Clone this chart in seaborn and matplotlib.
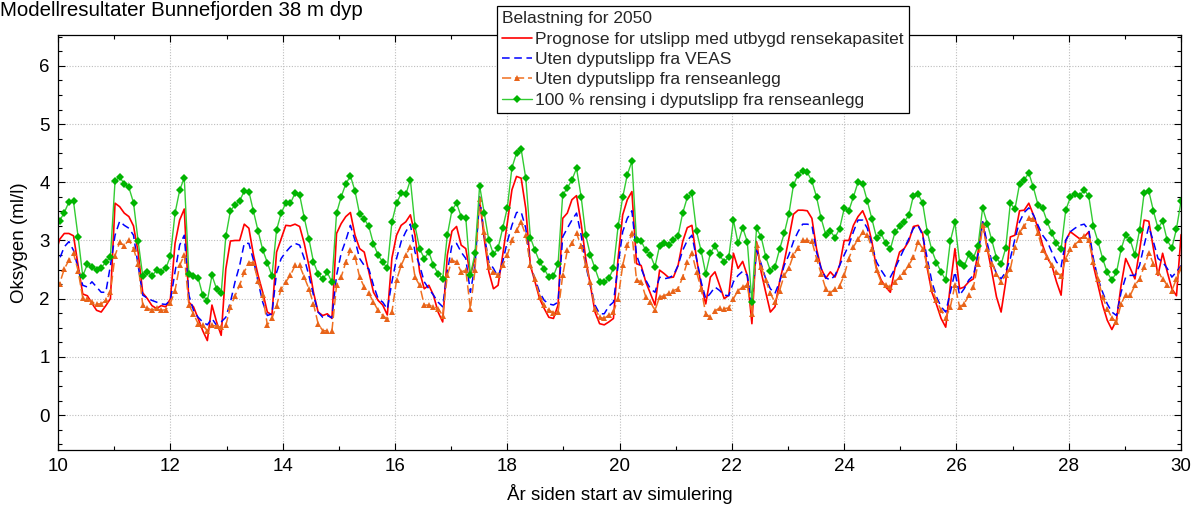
import numpy as np
import pandas as pd
import matplotlib
matplotlib.use("Agg")
import matplotlib.pyplot as plt
from matplotlib.ticker import MultipleLocator
import seaborn as sns

start_year = 9.946
step_days = 30

prognose = [2.75,3.02,3.12,3.12,3.08,2.57,2.08,2.05,1.92,1.80,1.77,1.88,2.00,3.64,3.58,3.47,3.41,3.25,2.80,2.10,
2.00,1.88,1.83,1.88,1.86,2.00,2.95,3.35,3.54,1.94,1.86,1.66,1.45,1.28,1.89,1.60,1.37,2.51,2.99,3.00,
3.00,3.28,3.21,2.75,2.40,2.11,1.77,1.72,2.80,3.03,3.26,3.25,3.28,3.24,2.95,2.57,2.11,1.77,1.71,1.74,
1.66,3.12,3.29,3.41,3.48,3.09,2.86,2.80,2.46,2.11,1.97,1.89,1.72,2.70,3.09,3.26,3.32,3.44,3.09,2.46,
2.17,2.23,2.06,1.77,1.60,2.75,3.16,3.24,2.92,2.86,2.40,2.69,3.70,3.03,2.46,2.17,2.23,2.75,3.30,3.87,
4.10,4.07,3.55,2.57,2.29,2.00,1.83,1.68,1.66,1.89,3.38,3.47,3.70,3.77,3.29,2.69,2.23,1.77,1.57,1.55,
1.60,1.66,2.69,3.44,3.70,3.84,2.60,2.57,2.29,2.09,1.89,2.49,2.43,2.36,2.37,2.57,2.98,3.22,3.26,2.69,
2.23,1.91,2.37,2.46,2.23,2.00,2.06,2.78,2.52,2.64,2.40,1.57,2.98,2.46,2.11,1.77,1.86,2.29,2.63,3.03,
3.45,3.52,3.52,3.51,3.38,2.86,2.52,2.35,2.46,2.37,2.57,3.00,3.00,3.26,3.41,3.51,3.32,2.98,2.52,2.32,
2.20,2.11,2.52,2.80,2.86,2.99,3.24,3.26,3.12,2.52,2.11,1.90,1.66,1.51,2.23,2.86,2.17,2.20,2.29,2.34,
2.80,3.32,2.86,2.46,2.03,1.77,2.29,3.06,3.09,3.51,3.52,3.64,3.44,3.21,2.92,2.70,2.57,2.29,2.06,3.00,
3.15,3.09,3.03,3.06,3.15,2.57,2.23,1.89,1.63,1.47,1.63,2.23,2.69,2.52,2.34,2.83,3.35,3.33,2.86,2.40,
2.78,2.46,2.17,2.05,3.10]

uten_veas = [2.52,2.69,2.89,2.98,2.83,2.52,2.23,2.20,2.29,2.20,2.11,2.11,2.57,3.09,3.33,3.26,3.21,3.09,2.57,2.06,
2.01,1.97,1.94,1.91,1.90,1.97,2.46,2.92,3.09,2.06,1.80,1.68,1.60,1.55,1.66,1.54,1.60,1.68,1.94,2.29,
2.57,2.95,2.95,2.66,2.29,1.94,1.71,1.74,2.45,2.69,2.80,2.89,2.95,2.92,2.69,2.40,2.06,1.77,1.68,1.71,
1.67,2.40,2.78,3.00,3.26,3.00,2.69,2.57,2.51,2.23,2.00,1.94,1.82,2.29,2.69,2.98,3.15,3.28,2.80,2.57,
2.29,2.17,2.06,1.94,1.86,2.46,2.92,2.95,2.80,2.69,2.11,2.57,3.75,3.09,2.63,2.52,2.37,2.63,2.98,3.26,
3.48,3.49,3.21,2.57,2.34,2.11,1.97,1.91,1.89,1.94,3.06,3.21,3.35,3.47,3.09,2.57,2.23,1.89,1.74,1.74,
1.87,1.94,2.57,3.15,3.38,3.51,2.75,2.52,2.32,2.17,2.11,2.37,2.34,2.36,2.40,2.57,2.83,3.00,3.09,2.69,
2.29,2.00,2.09,2.20,2.14,2.06,2.05,2.29,2.40,2.47,2.40,1.89,2.83,2.60,2.34,2.17,2.09,2.29,2.57,2.75,
2.98,3.15,3.28,3.28,3.26,2.80,2.52,2.36,2.32,2.40,2.57,2.75,2.92,3.15,3.35,3.35,3.21,2.92,2.63,2.49,
2.37,2.37,2.52,2.69,2.86,3.03,3.21,3.26,3.09,2.69,2.29,2.03,1.86,1.77,2.11,2.46,2.06,2.17,2.32,2.40,
2.75,3.32,2.95,2.63,2.43,2.34,2.46,2.69,3.03,3.32,3.48,3.56,3.44,3.26,3.09,2.98,2.80,2.63,2.55,3.00,
3.15,3.21,3.26,3.28,3.18,2.69,2.34,2.11,1.91,1.77,1.71,2.11,2.37,2.40,2.40,2.57,2.92,3.24,2.98,2.69,
2.63,2.52,2.37,2.46,2.57]

uten_renseanlegg = [2.15,2.26,2.51,2.66,2.78,2.48,2.01,2.00,1.94,1.91,1.91,1.97,2.11,2.74,2.97,2.91,3.01,2.86,2.60,1.89,
1.84,1.80,1.84,1.80,1.81,1.92,2.14,2.57,2.75,1.89,1.74,1.57,1.54,1.45,1.54,1.53,1.51,1.54,1.86,2.05,
2.23,2.46,2.62,2.62,2.30,2.06,1.55,1.66,1.88,2.17,2.29,2.40,2.57,2.57,2.37,2.17,1.91,1.57,1.45,1.45,
1.45,2.23,2.37,2.63,2.83,2.72,2.37,2.20,2.09,1.94,1.80,1.71,1.65,1.77,2.32,2.57,2.75,2.89,2.37,2.23,
1.89,1.89,1.86,1.83,1.71,2.40,2.66,2.63,2.46,2.49,1.83,2.49,3.71,3.15,2.55,2.46,2.40,2.57,2.75,3.00,
3.18,3.31,3.09,2.57,2.34,2.03,1.89,1.80,1.76,1.77,2.40,2.83,2.95,3.12,2.91,2.57,2.29,1.83,1.68,1.66,
1.72,1.77,2.00,2.57,2.92,3.12,2.32,2.29,2.03,1.94,1.80,2.03,2.05,2.09,2.14,2.17,2.37,2.63,2.78,2.46,
2.17,1.74,1.68,1.79,1.84,1.83,1.84,2.00,2.14,2.20,2.23,1.74,2.92,2.55,2.32,2.09,1.94,2.14,2.40,2.52,
2.75,2.87,3.00,3.00,2.99,2.69,2.43,2.17,2.10,2.17,2.22,2.40,2.69,2.89,3.02,3.14,3.10,2.86,2.49,2.29,
2.23,2.20,2.29,2.37,2.46,2.57,2.72,2.98,2.86,2.57,2.17,1.97,1.80,1.67,1.86,2.23,1.86,1.91,2.06,2.20,
2.60,3.26,2.86,2.60,2.43,2.29,2.40,2.51,2.89,3.14,3.24,3.38,3.37,3.12,2.83,2.72,2.57,2.46,2.39,2.69,
2.85,2.93,3.00,3.08,3.00,2.63,2.34,2.03,1.83,1.67,1.60,1.91,2.07,2.06,2.23,2.34,2.55,2.79,2.60,2.46,
2.34,2.23,2.14,2.34,2.52]

full_rensing = [3.25,3.34,3.48,3.66,3.67,3.06,2.39,2.59,2.55,2.49,2.53,2.63,2.72,4.02,4.09,3.97,3.91,3.65,2.99,2.39,
2.46,2.39,2.49,2.46,2.52,2.73,3.47,3.86,4.08,2.42,2.39,2.36,2.06,1.96,2.40,2.17,2.09,3.07,3.51,3.61,
3.68,3.85,3.84,3.50,3.16,2.84,2.62,2.39,3.18,3.47,3.64,3.64,3.81,3.78,3.39,3.03,2.63,2.43,2.33,2.45,
2.28,3.47,3.75,3.97,4.11,3.85,3.45,3.37,3.24,2.94,2.75,2.63,2.52,3.32,3.64,3.81,3.79,4.04,3.25,2.86,
2.69,2.80,2.57,2.43,2.34,3.09,3.52,3.64,3.41,3.39,2.40,2.78,3.94,3.47,3.00,2.76,2.87,3.21,3.56,4.25,
4.50,4.57,4.07,3.05,2.83,2.63,2.51,2.37,2.39,2.60,3.78,3.90,4.04,4.24,3.75,3.09,2.75,2.52,2.29,2.28,
2.35,2.52,3.24,3.74,4.13,4.36,3.00,2.99,2.83,2.75,2.55,2.91,2.95,2.92,3.00,3.08,3.47,3.74,3.81,3.16,
2.82,2.43,2.78,2.91,2.75,2.63,2.72,3.35,2.95,3.22,2.98,1.94,3.21,3.06,2.72,2.48,2.55,2.85,3.12,3.45,
3.95,4.13,4.20,4.17,4.02,3.75,3.38,3.10,3.16,3.05,3.20,3.55,3.51,3.75,4.00,3.97,3.68,3.37,3.05,3.12,
2.95,2.85,3.14,3.24,3.32,3.43,3.77,3.80,3.64,3.15,2.83,2.62,2.46,2.32,2.99,3.31,2.62,2.56,2.76,2.70,
2.91,3.56,3.29,3.00,2.70,2.59,2.87,3.64,3.54,3.97,4.04,4.16,3.91,3.61,3.55,3.32,3.12,2.95,2.85,3.52,
3.74,3.80,3.76,3.87,3.76,3.24,2.98,2.69,2.45,2.32,2.45,2.85,3.10,3.00,2.75,3.18,3.82,3.85,3.51,3.21,
3.33,3.00,2.87,3.20,3.68]

labels = ["Prognose for utslipp med utbygd rensekapasitet",
          "Uten dyputslipp fra VEAS",
          "Uten dyputslipp fra renseanlegg",
          "100 % rensing i dyputslipp fra renseanlegg"]
title = "Modellresultater Bunnefjorden 38 m dyp"
legend_title = "Belastning for 2050"
xlabel = "År siden start av simulering"
ylabel = "Oksygen (ml/l)"

n = len(prognose)
years = start_year + np.arange(n) * step_days / 365.0

sns.set_theme(style="white")
plt.rcParams["font.family"] = ["Liberation Sans", "DejaVu Sans"]

fig = plt.figure(figsize=(12, 5.11), dpi=100)
ax = fig.add_axes([0.0484, 0.1194, 0.9358, 0.8121])

sns.lineplot(x=years, y=prognose, ax=ax, color="#ff0000", lw=1.2, label=labels[0],
             estimator=None, sort=False)
sns.lineplot(x=years, y=uten_veas, ax=ax, color="#0000ff", lw=1.1, label=labels[1],
             estimator=None, sort=False, dashes=False, linestyle=(0, (5, 3)))
sns.lineplot(x=years, y=uten_renseanlegg, ax=ax, color="#f07020", lw=1.1, label=labels[2],
             estimator=None, sort=False, linestyle=(0, (6, 2.5)), marker="^",
             markersize=5, markeredgewidth=0, markerfacecolor="#e8641a")
sns.lineplot(x=years, y=full_rensing, ax=ax, color="#33cc33", lw=1.0, label=labels[3],
             estimator=None, sort=False, marker="D", markersize=3.8, markeredgewidth=0,
             markerfacecolor="#00b400")

ax.set_xlim(10, 30)
ax.set_ylim(-0.6, 6.53)
ax.xaxis.set_major_locator(MultipleLocator(2))
ax.xaxis.set_minor_locator(MultipleLocator(1))
ax.yaxis.set_major_locator(MultipleLocator(1))
ax.yaxis.set_minor_locator(MultipleLocator(0.25))
ax.tick_params(which="both", direction="in", top=True, right=True, bottom=True, left=True,
               color="black", labelsize=13.5, labelcolor="black")
ax.tick_params(which="major", length=5, width=0.8, pad=6)
ax.tick_params(which="minor", length=3, width=0.8)
ax.grid(True, which="major", linestyle=(0, (1, 1.5)), color="#bdbdbd", lw=0.8)
for s in ax.spines.values():
    s.set_color("black")
    s.set_linewidth(0.9)

ax.set_xlabel(xlabel, fontsize=13.5, color="black", labelpad=6)
ax.set_ylabel(ylabel, fontsize=13.5, color="black", labelpad=8)
fig.text(0.0, 0.998, title, fontsize=14.8, ha="left", va="top", color="black")

leg = ax.legend(loc="upper left", bbox_to_anchor=(0.414, 0.988), bbox_transform=fig.transFigure,
                title=legend_title, fontsize=12.5, title_fontsize=12.5, frameon=True,
                fancybox=False, edgecolor="black", framealpha=1, handlelength=1.7,
                handletextpad=0.2, borderpad=0.3, labelspacing=0.3, borderaxespad=0)
leg._legend_box.align = "left"
leg.get_frame().set_linewidth(0.9)
leg.set_zorder(10)

fig.savefig("out.png", dpi=100)
